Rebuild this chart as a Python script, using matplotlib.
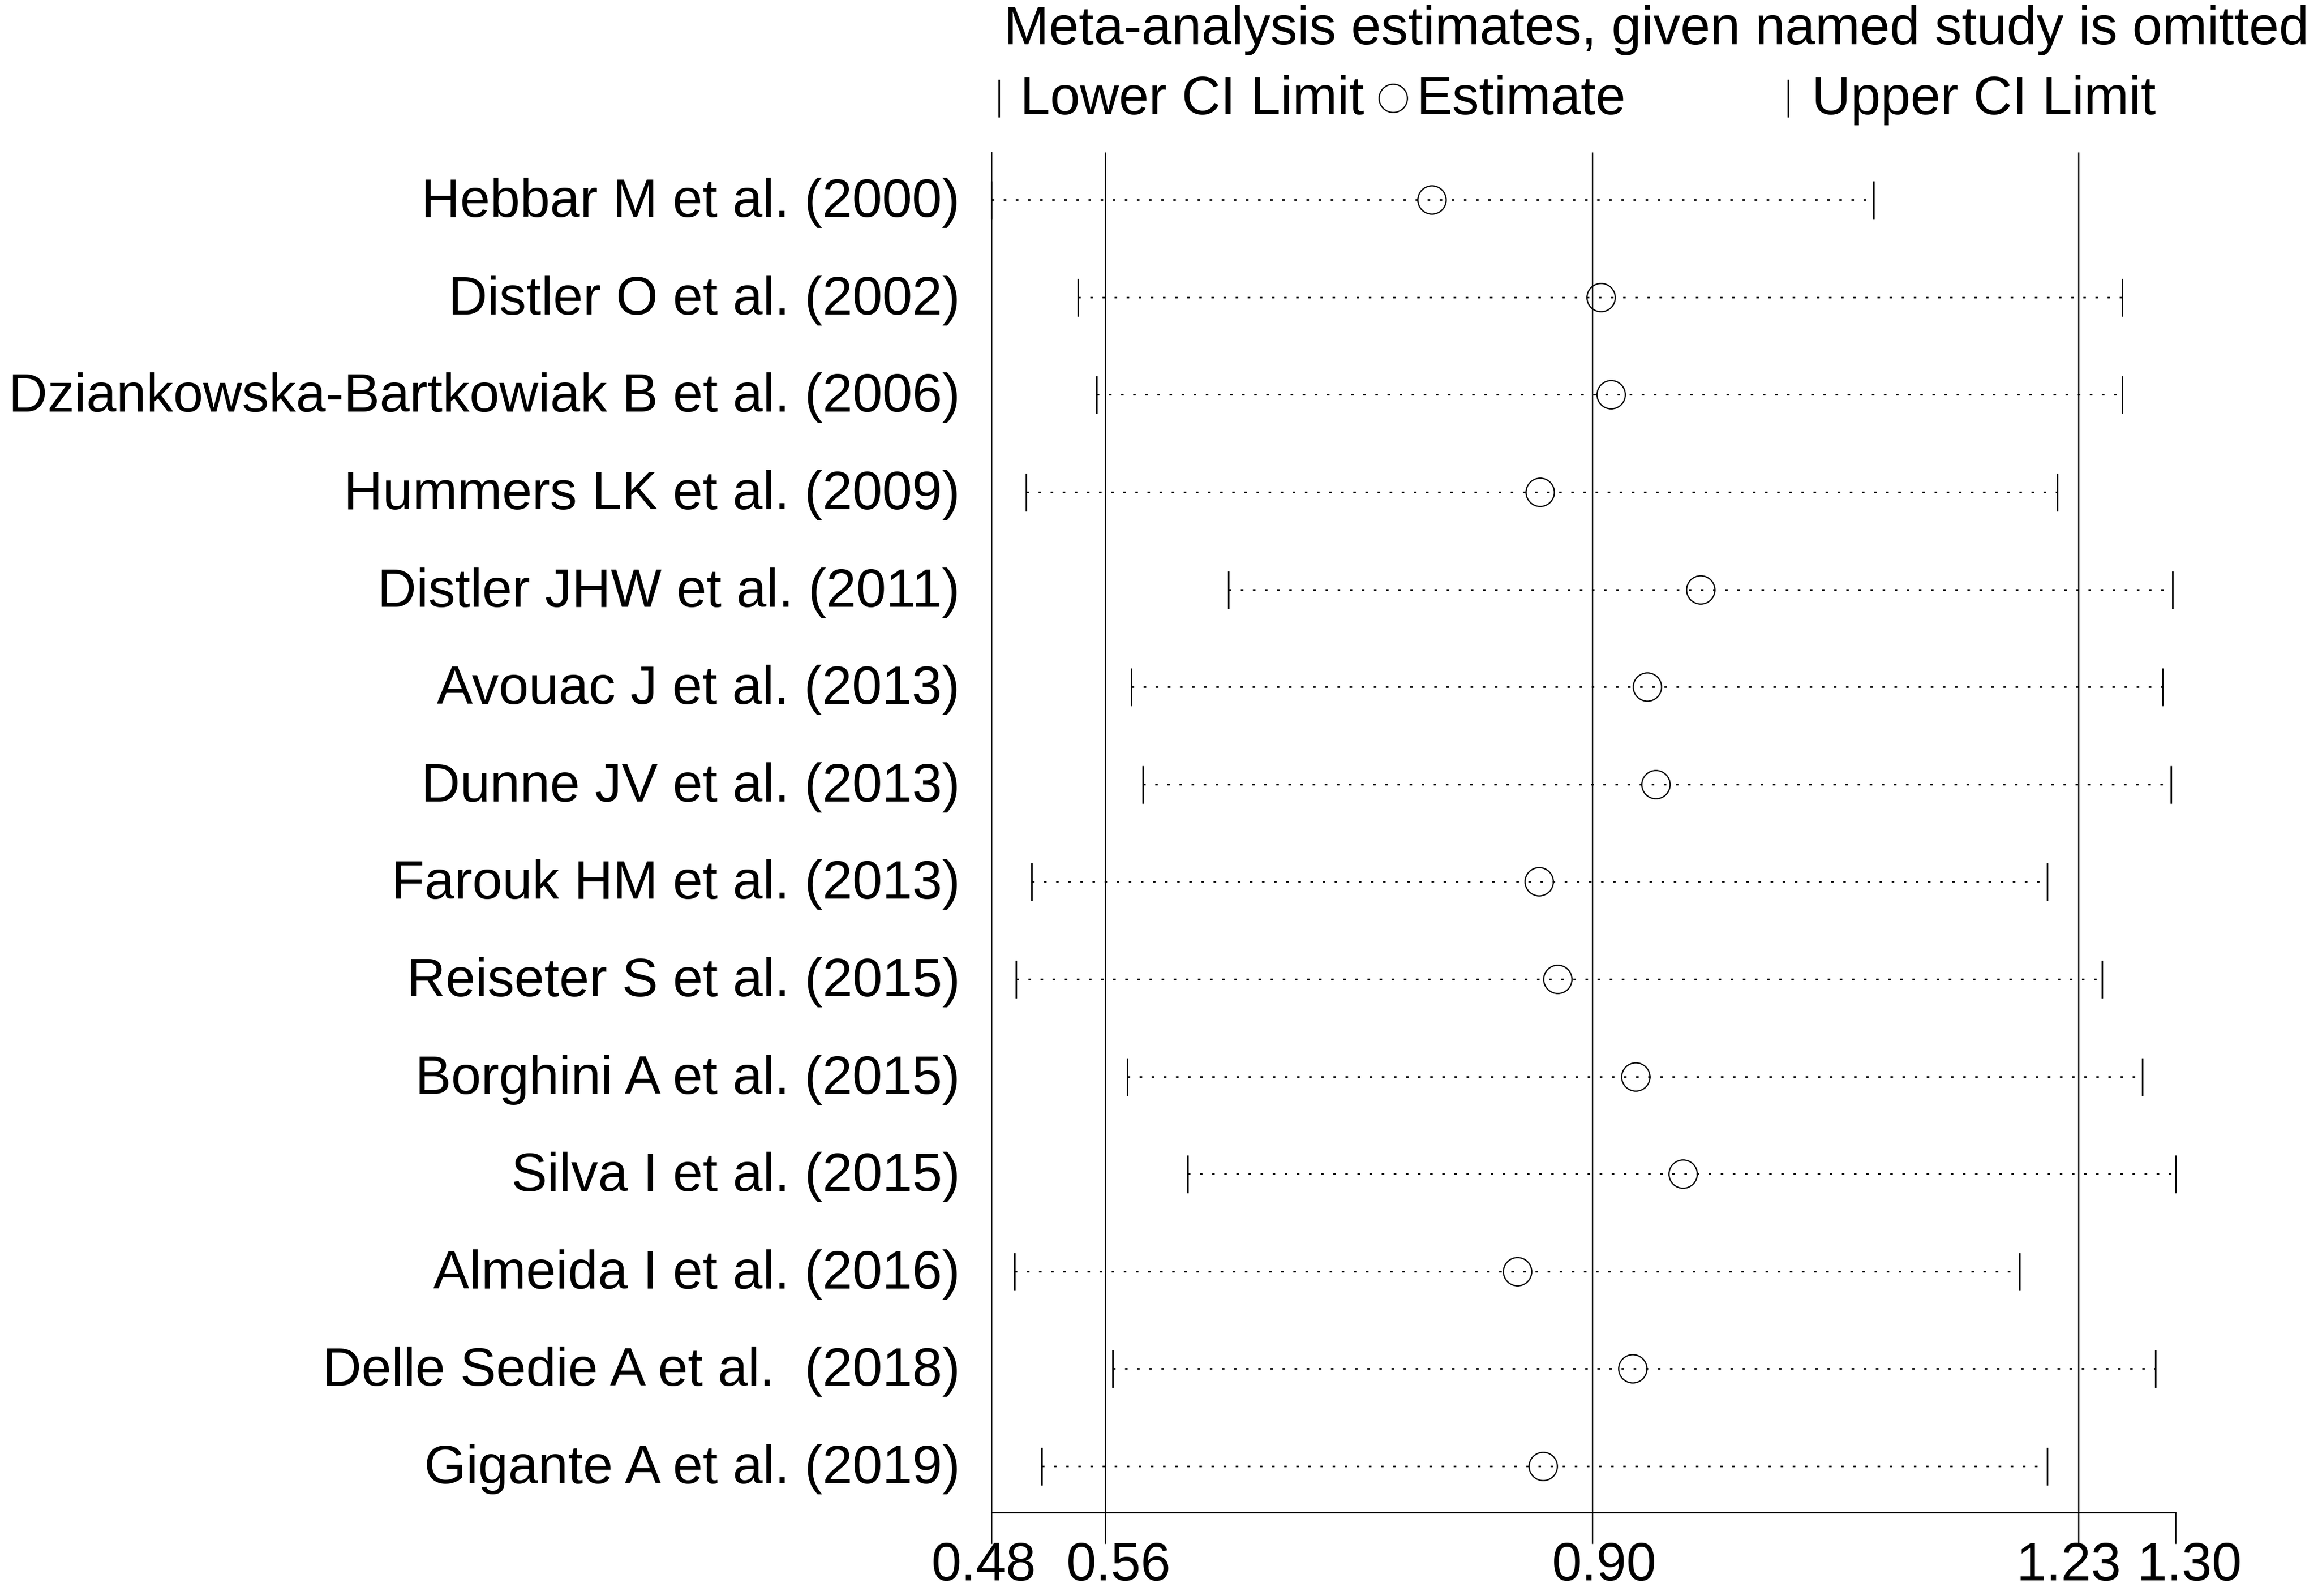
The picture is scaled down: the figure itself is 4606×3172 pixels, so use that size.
import matplotlib
matplotlib.use("Agg")
import matplotlib.pyplot as plt
from matplotlib.lines import Line2D
from matplotlib.transforms import ScaledTranslation

plt.rcParams['font.family'] = ['Liberation Sans', 'DejaVu Sans']

studies = [
    "Hebbar M et al. (2000)",
    "Distler O et al. (2002)",
    "Dziankowska-Bartkowiak B et al. (2006)",
    "Hummers LK et al. (2009)",
    "Distler JHW et al. (2011)",
    "Avouac J et al. (2013)",
    "Dunne JV et al. (2013)",
    "Farouk HM et al. (2013)",
    "Reiseter S et al. (2015)",
    "Borghini A et al. (2015)",
    "Silva I et al. (2015)",
    "Almeida I et al. (2016)",
    "Delle Sedie A et al.  (2018)",
    "Gigante A et al. (2019)",
]
lower = [0.480, 0.540, 0.553, 0.504, 0.644, 0.577, 0.585, 0.508,
         0.497, 0.574, 0.616, 0.496, 0.564, 0.515]
estimate = [0.785, 0.902, 0.909, 0.860, 0.971, 0.934, 0.940, 0.859,
            0.872, 0.926, 0.959, 0.844, 0.924, 0.862]
upper = [1.091, 1.263, 1.263, 1.218, 1.298, 1.291, 1.297, 1.211,
         1.249, 1.277, 1.300, 1.192, 1.286, 1.211]

overall_lower = 0.5586
overall_est = 0.8960
overall_upper = 1.2327
x_min, x_max = 0.48, 1.30

tick_values = [x_min, overall_lower, overall_est, overall_upper, x_max]
tick_labels = ["0.48", "0.56", "0.90", "1.23", "1.30"]

title = "Meta-analysis estimates, given named study is omitted"
legend_labels = ["Lower CI Limit", "Estimate", "Upper CI Limit"]

FS = 25.7
W, H, DPI = 4606, 3172, 300
fig = plt.figure(figsize=(W / DPI, H / DPI), dpi=DPI)
ax = fig.add_axes([1970 / W, 1 - 3005.6 / H, (4323 - 1970) / W, (3005.6 - 303) / H])

n = len(studies)
ypos = [n - i for i in range(n)]

lw_line = 0.6
# CI dotted lines
for y, lo, hi in zip(ypos, lower, upper):
    ax.plot([lo, hi], [y, y], color='black', lw=0.75,
            linestyle=(0, (1.6, 6.1)), clip_on=False, zorder=2)
# CI limit bars
ax.plot(lower, ypos, linestyle='none', marker='|', ms=18, mew=0.75,
        color='black', clip_on=False, zorder=3)
ax.plot(upper, ypos, linestyle='none', marker='|', ms=18, mew=0.75,
        color='black', clip_on=False, zorder=3)
# estimates
ax.plot(estimate, ypos, linestyle='none', marker='o', ms=13.5, mew=0.6,
        mfc='none', mec='black', clip_on=False, zorder=4)

# reference lines
for v in (overall_lower, overall_est, overall_upper):
    ax.axvline(v, color='black', lw=lw_line, zorder=1)

ax.set_xlim(x_min, x_max)
ax.set_ylim(0.527, 14.487)

for s in ('top', 'right'):
    ax.spines[s].set_visible(False)
for s in ('left', 'bottom'):
    ax.spines[s].set_linewidth(lw_line)

ax.set_xticks(tick_values)
ax.set_xticklabels(tick_labels, fontsize=FS)
ax.tick_params(axis='x', direction='out', length=14.9, width=lw_line, pad=-1.1)
offsets_px = [-15, 27, 24, -19, 28]
for lab, dx in zip(ax.get_xticklabels(), offsets_px):
    lab.set_transform(lab.get_transform() + ScaledTranslation(dx / DPI, 0, fig.dpi_scale_trans))

ax.set_yticks(ypos)
ax.set_yticklabels(studies, fontsize=FS)
ax.tick_params(axis='y', length=0, pad=15)
for lab in ax.get_yticklabels():
    lab.set_transform(lab.get_transform() + ScaledTranslation(0, 5 / DPI, fig.dpi_scale_trans))

# title and legend
fig.text(1995 / W, 1 - 88 / H, title, fontsize=FS, ha='left', va='baseline')
leg_base = 1 - 227 / H
leg_mark_y = 1 - 195 / H
fig.add_artist(Line2D([1985 / W], [leg_mark_y], marker='|', ms=18, mew=0.75,
                      color='black', linestyle='none', transform=fig.transFigure))
fig.text(2027 / W, leg_base, legend_labels[0], fontsize=FS, ha='left', va='baseline')
fig.add_artist(Line2D([2768 / W], [leg_mark_y], marker='o', ms=13.5, mew=0.6,
                      mfc='none', mec='black', linestyle='none', transform=fig.transFigure))
fig.text(2814 / W, leg_base, legend_labels[1], fontsize=FS, ha='left', va='baseline')
fig.add_artist(Line2D([3553 / W], [leg_mark_y], marker='|', ms=18, mew=0.75,
                      color='black', linestyle='none', transform=fig.transFigure))
fig.text(3600 / W, leg_base, legend_labels[2], fontsize=FS, ha='left', va='baseline')

fig.savefig("out.png", dpi=DPI, facecolor='white')
